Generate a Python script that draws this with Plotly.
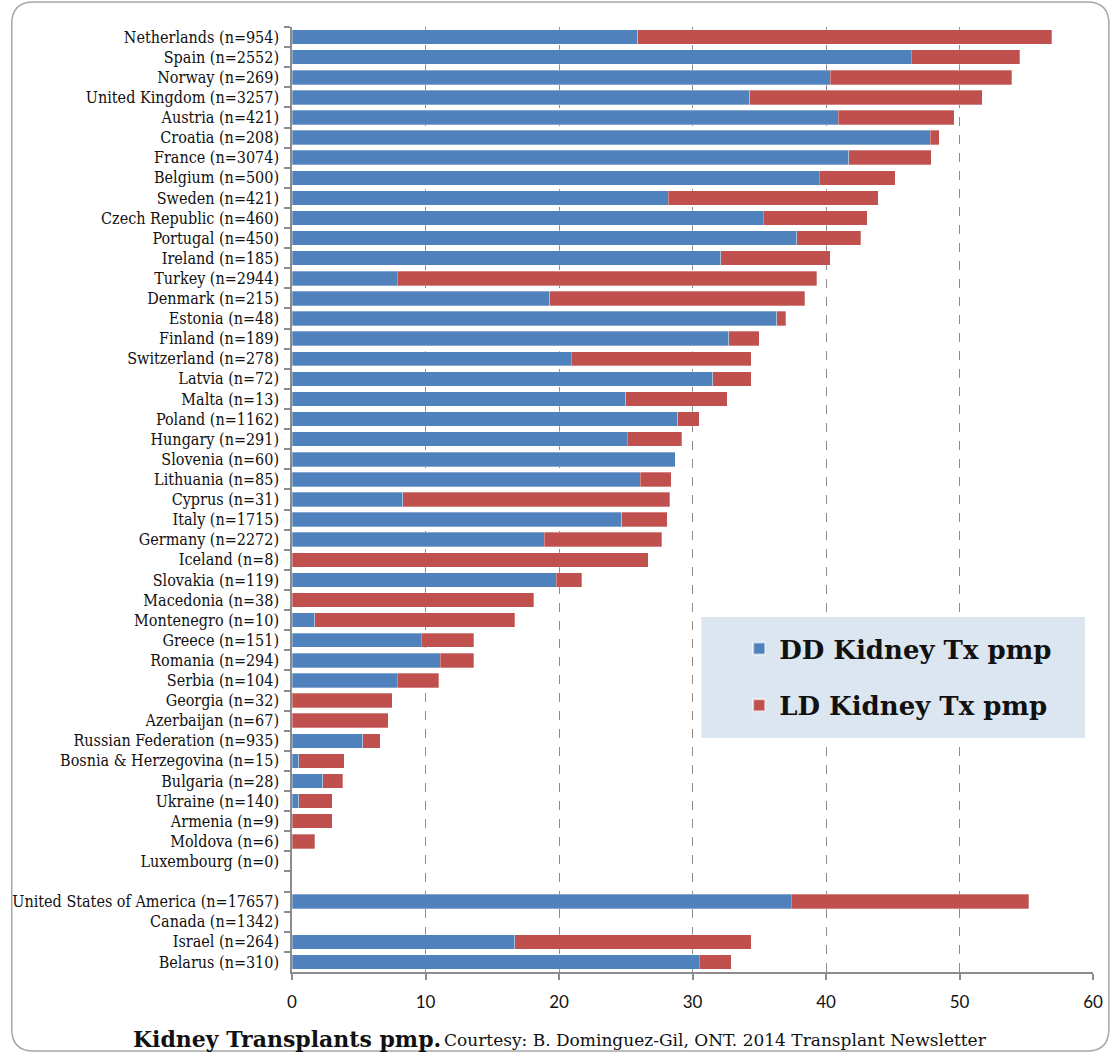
import plotly.graph_objects as go

countries = [
    "Netherlands (n=954)", "Spain (n=2552)", "Norway (n=269)", "United Kingdom (n=3257)",
    "Austria (n=421)", "Croatia (n=208)", "France (n=3074)", "Belgium (n=500)",
    "Sweden (n=421)", "Czech Republic (n=460)", "Portugal (n=450)", "Ireland (n=185)",
    "Turkey (n=2944)", "Denmark (n=215)", "Estonia (n=48)", "Finland (n=189)",
    "Switzerland (n=278)", "Latvia (n=72)", "Malta (n=13)", "Poland (n=1162)",
    "Hungary (n=291)", "Slovenia (n=60)", "Lithuania (n=85)", "Cyprus (n=31)",
    "Italy (n=1715)", "Germany (n=2272)", "Iceland (n=8)", "Slovakia (n=119)",
    "Macedonia (n=38)", "Montenegro (n=10)", "Greece (n=151)", "Romania (n=294)",
    "Serbia (n=104)", "Georgia (n=32)", "Azerbaijan (n=67)", "Russian Federation (n=935)",
    "Bosnia & Herzegovina (n=15)", "Bulgaria (n=28)", "Ukraine (n=140)", "Armenia (n=9)",
    "Moldova (n=6)", "Luxembourg (n=0)", " ",
    "United States of America (n=17657)", "Canada (n=1342)", "Israel (n=264)", "Belarus (n=310)",
]

dd_pmp = [
    25.9, 46.4, 40.3, 34.3,
    40.9, 47.8, 41.7, 39.5,
    28.2, 35.3, 37.8, 32.1,
    7.9, 19.3, 36.3, 32.7,
    20.9, 31.5, 25.0, 28.9,
    25.1, 28.7, 26.1, 8.3,
    24.7, 18.9, 0.0, 19.8,
    0.0, 1.7, 9.7, 11.1,
    7.9, 0.0, 0.0, 5.3,
    0.5, 2.3, 0.5, 0.0,
    0.0, 0.0, None,
    37.4, 0.0, 16.7, 30.5,
]

ld_pmp = [
    31.0, 8.1, 13.6, 17.4,
    8.7, 0.7, 6.2, 5.7,
    15.7, 7.8, 4.8, 8.2,
    31.4, 19.1, 0.7, 2.3,
    13.5, 2.9, 7.6, 1.6,
    4.1, 0.0, 2.3, 20.0,
    3.4, 8.8, 26.7, 1.9,
    18.1, 15.0, 3.9, 2.5,
    3.1, 7.5, 7.2, 1.3,
    3.4, 1.5, 2.5, 3.0,
    1.7, 0.0, None,
    17.8, 0.0, 17.7, 2.4,
]

series_names = ["DD Kidney Tx pmp", "LD Kidney Tx pmp"]
x_ticks = [0, 10, 20, 30, 40, 50, 60]

W, H = 1115, 1055
L, R, T, B = 290, 1096, 27, 972


def px(xp):
    return (xp - L) / (R - L)


def py(yp):
    return (B - yp) / (B - T)


fig = go.Figure()
fig.add_trace(go.Bar(
    y=countries, x=dd_pmp, orientation="h", name=series_names[0],
    marker=dict(color="#4f81bd", line=dict(color="rgba(255,255,255,0.6)", width=0.5)),
    legendgroup="a",
))
fig.add_trace(go.Bar(
    y=countries, x=ld_pmp, orientation="h", name=series_names[1],
    marker=dict(color="#c0504d", line=dict(color="rgba(255,255,255,0.6)", width=0.5)),
    legendgroup="b",
))

# rounded outer frame (pixel coords converted to paper)
fx0, fx1, fy0, fy1, rad = 8, 1112, 2, 1051, 22
path = (
    f"M {px(fx0)},{py(fy0 + rad)} "
    f"Q {px(fx0)},{py(fy0)} {px(fx0 + rad)},{py(fy0)} "
    f"L {px(fx1 - rad)},{py(fy0)} "
    f"Q {px(fx1)},{py(fy0)} {px(fx1)},{py(fy0 + rad)} "
    f"L {px(fx1)},{py(fy1 - rad)} "
    f"Q {px(fx1)},{py(fy1)} {px(fx1 - rad)},{py(fy1)} "
    f"L {px(fx0 + rad)},{py(fy1)} "
    f"Q {px(fx0)},{py(fy1)} {px(fx0)},{py(fy1 - rad)} Z"
)

shapes = [
    dict(type="path", xref="paper", yref="paper", path=path,
         line=dict(color="#a6a6a6", width=1.5), layer="below"),
    dict(type="rect", xref="paper", yref="paper",
         x0=px(702), x1=px(1088), y0=py(738), y1=py(617),
         fillcolor="#dce6f1", line=dict(width=0), layer="above"),
]

annotations = [
    dict(text="<b>Kidney Transplants pmp.</b>", xref="paper", yref="paper",
         x=px(128), y=py(1039), xanchor="left", yanchor="middle", showarrow=False,
         font=dict(family="DejaVu Serif", size=22, color="#111111")),
    dict(text="Courtesy: B. Dominguez-Gil, ONT. 2014 Transplant Newsletter", xref="paper", yref="paper",
         x=px(441), y=py(1040), xanchor="left", yanchor="middle", showarrow=False,
         font=dict(family="DejaVu Serif", size=17, color="#111111")),
]

fig.update_layout(
    width=W, height=H,
    barmode="stack", bargap=0.28,
    plot_bgcolor="white", paper_bgcolor="white",
    margin=dict(l=L, r=W - R, t=T, b=H - B, pad=0),
    shapes=shapes, annotations=annotations,
    showlegend=True,
    legend=dict(
        x=px(740), y=py(625), xanchor="left", yanchor="top",
        bgcolor="rgba(0,0,0,0)", tracegroupgap=20,
        font=dict(family="DejaVu Serif", size=26, color="#111111", weight="bold"),
        itemsizing="constant",
    ),
    xaxis=dict(
        range=[0, 60], tickvals=x_ticks, ticktext=[str(v) for v in x_ticks],
        showgrid=True, gridcolor="#8c8c8c", griddash="dash", gridwidth=1.3,
        showline=True, linecolor="#8c8c8c", linewidth=1.5,
        ticks="outside", ticklen=6, tickcolor="#8c8c8c", tickwidth=1.5,
        ticklabelstandoff=8,
        zeroline=False,
        tickfont=dict(family="Lato", size=17, color="#111111"),
    ),
    yaxis=dict(
        type="category", autorange="reversed",
        showline=True, linecolor="#8c8c8c", linewidth=1.5,
        ticks="outside", tickson="boundaries", ticklen=6, tickcolor="#8c8c8c", tickwidth=1.5,
        ticklabelstandoff=8,
        showgrid=False, zeroline=False,
        tickfont=dict(family="DejaVu Serif Condensed, DejaVu Serif", size=16, color="#111111"),
    ),
)

fig.write_html("out.html")
